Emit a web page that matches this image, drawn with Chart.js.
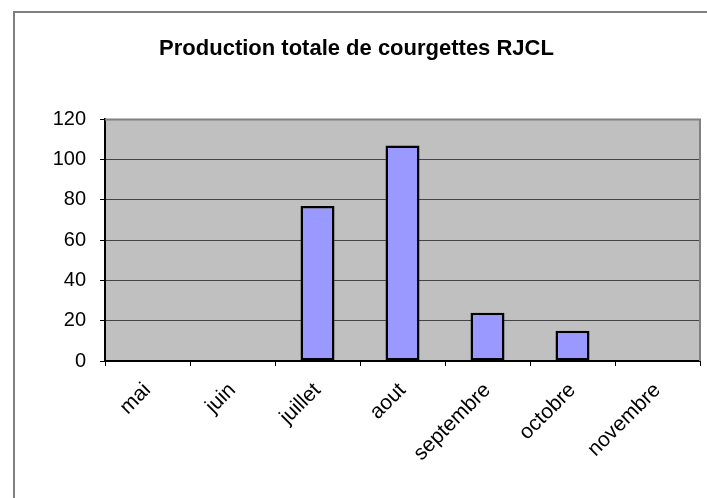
<!DOCTYPE html>
<html>
<head>
<meta charset="utf-8">
<script src="https://cdn.jsdelivr.net/npm/chart.js@4/dist/chart.umd.min.js"></script>
<style>
html,body{margin:0;padding:0;background:#fff;}
#wrap{width:707px;height:498px;}
</style>
</head>
<body>
<div id="wrap"><canvas id="c" width="707" height="498"></canvas></div>
<script>
const categories = ['mai', 'juin', 'juillet', 'aout', 'septembre', 'octobre', 'novembre'];
const production = [0, 0, 77, 107, 24, 15, 0];
const yTicks = [0, 20, 40, 60, 80, 100, 120];
const chartTitle = 'Production totale de courgettes RJCL';

const FONT = '"Liberation Sans", Arial, sans-serif';
Chart.defaults.color = '#000';
Chart.defaults.font.family = FONT;

const frame = {
  id: 'frame',
  beforeDraw(chart) {
    const ctx = chart.ctx;
    const a = chart.chartArea;
    ctx.save();
    ctx.fillStyle = '#fff';
    ctx.fillRect(0, 0, chart.width, chart.height);
    ctx.strokeStyle = '#808080';
    ctx.lineWidth = 2;
    ctx.beginPath();
    ctx.moveTo(14, chart.height);
    ctx.lineTo(14, 12);
    ctx.lineTo(chart.width, 12);
    ctx.stroke();
    ctx.fillStyle = '#c0c0c0';
    ctx.fillRect(a.left, a.top, a.right - a.left, a.bottom - a.top);
    ctx.restore();
  },
  beforeDatasetsDraw(chart) {
    const ctx = chart.ctx;
    const a = chart.chartArea;
    ctx.save();
    ctx.strokeStyle = '#808080';
    ctx.lineWidth = 2;
    ctx.beginPath();
    ctx.moveTo(a.left, a.top);
    ctx.lineTo(a.right, a.top);
    ctx.lineTo(a.right, a.bottom);
    ctx.stroke();
    ctx.restore();
  }
};

new Chart(document.getElementById('c'), {
  type: 'bar',
  data: {
    labels: categories,
    datasets: [{
      data: production,
      backgroundColor: '#9999ff',
      borderColor: '#000',
      borderWidth: 2.5,
      borderSkipped: false,
      barPercentage: 0.4,
      categoryPercentage: 1
    }]
  },
  options: {
    responsive: false,
    animation: false,
    devicePixelRatio: 1,
    layout: { padding: { left: 13, right: 7, top: 12, bottom: 0 } },
    plugins: {
      legend: { display: false },
      tooltip: { enabled: false },
      title: {
        display: true,
        text: chartTitle,
        color: '#000',
        font: { family: FONT, size: 22, weight: 'bold' },
        padding: { top: 24, bottom: 57 }
      }
    },
    scales: {
      x: {
        afterFit(s) { s.height = 137; },
        border: { color: '#000', width: 2 },
        grid: { drawOnChartArea: false, drawTicks: true, tickLength: 5, tickColor: '#000', offset: true },
        ticks: { minRotation: 45, maxRotation: 45, padding: 12, font: { family: FONT, size: 21 }, color: '#000' }
      },
      y: {
        min: 0,
        max: 120,
        afterFit(s) { s.width = 92; },
        afterBuildTicks(s) { s.ticks = yTicks.map(v => ({ value: v })); },
        border: { color: '#000', width: 2 },
        grid: {
          color: ctx => (ctx.tick && ctx.tick.value === 120) ? 'rgba(0,0,0,0)' : '#444',
          lineWidth: 1,
          tickLength: 5,
          tickColor: '#000'
        },
        ticks: { padding: 14, font: { family: FONT, size: 20 }, color: '#000' }
      }
    }
  },
  plugins: [frame]
});
</script>
</body>
</html>
